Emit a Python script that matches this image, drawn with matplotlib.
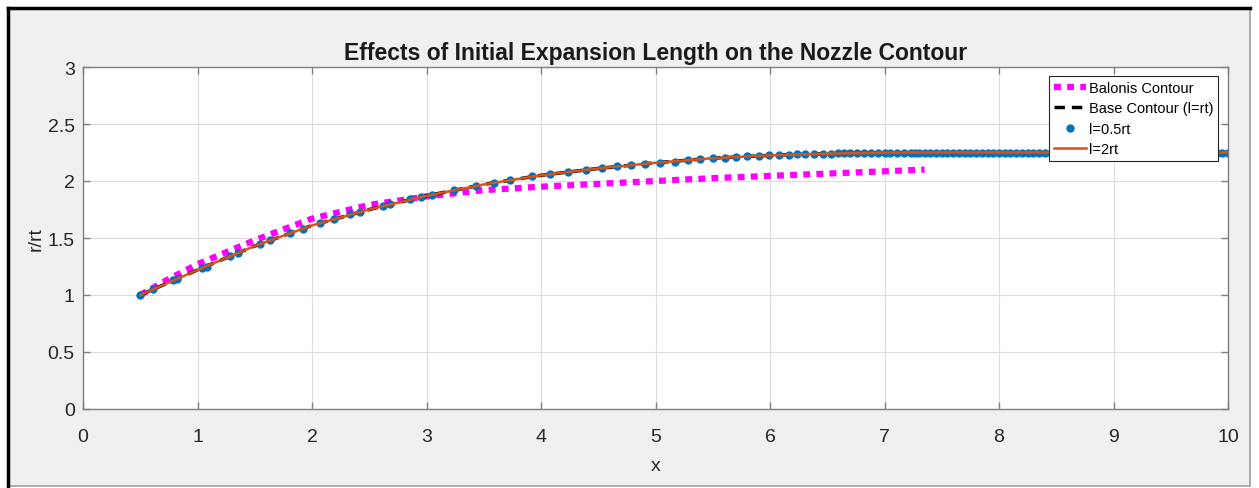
import matplotlib
matplotlib.use("Agg")
import matplotlib.pyplot as plt
from matplotlib.patches import Rectangle

plt.rcParams['font.family'] = ['Liberation Sans', 'DejaVu Sans']

# Balonis contour
x_bal = [0.5, 0.75, 1.0, 1.5, 2.0, 2.5, 3.0, 3.5, 4.0, 4.5, 5.0, 5.5, 6.0, 6.5, 7.0, 7.35]
y_bal = [1.00, 1.14, 1.27, 1.48, 1.67, 1.79, 1.865, 1.92, 1.95, 1.975, 2.00, 2.025, 2.045, 2.065, 2.085, 2.10]

# base contour (l=rt)
x_base = [0.5, 1.0, 1.5, 2.0, 2.5, 3.0, 3.5, 4.0, 4.5, 5.0, 5.5, 6.0, 6.5, 7.0, 7.3]
y_base = [1.00, 1.22, 1.43, 1.61, 1.75, 1.87, 1.97, 2.05, 2.11, 2.16, 2.20, 2.225, 2.24, 2.248, 2.25]

# l=0.5rt points
x_half = [0.50, 0.61, 0.79, 0.82, 1.04, 1.08, 1.28, 1.35, 1.55, 1.63, 1.81, 1.92, 2.07, 2.19,
          2.33, 2.42, 2.62, 2.68, 2.86, 2.95, 3.05, 3.24, 3.43, 3.59, 3.73, 3.92, 4.08, 4.24,
          4.39, 4.53, 4.66, 4.79, 4.91, 5.04, 5.17, 5.28, 5.39, 5.50, 5.61, 5.70, 5.80, 5.90,
          5.99, 6.08, 6.17, 6.24, 6.31, 6.38, 6.46, 6.53, 6.59, 6.65, 6.70, 6.76, 6.82, 6.88,
          6.94, 7.00, 7.05, 7.11, 7.17, 7.23, 7.27,
          7.30, 7.35, 7.40, 7.45, 7.50, 7.55, 7.60, 7.65, 7.70, 7.75, 7.80, 7.85, 7.90, 7.95,
          8.00, 8.05, 8.10, 8.15, 8.20, 8.25, 8.30, 8.35, 8.40, 8.45, 8.50, 8.55, 8.60, 8.65,
          8.70, 8.75, 8.80, 8.85, 8.90, 8.95, 9.00, 9.05, 9.10, 9.15, 9.20, 9.25, 9.30, 9.35,
          9.40, 9.45, 9.50, 9.55, 9.60, 9.65, 9.70, 9.75, 9.80, 9.85, 9.90, 9.95, 10.00]
y_half = [1.00, 1.05, 1.13, 1.14, 1.24, 1.25, 1.34, 1.37, 1.45, 1.48, 1.54, 1.58, 1.63, 1.67,
          1.71, 1.73, 1.78, 1.80, 1.84, 1.86, 1.88, 1.92, 1.96, 1.98, 2.01, 2.04, 2.06, 2.08,
          2.10, 2.11, 2.13, 2.14, 2.15, 2.16, 2.17, 2.18, 2.19, 2.20, 2.205, 2.21, 2.215, 2.22,
          2.225, 2.228, 2.231, 2.233, 2.235, 2.237, 2.239, 2.241, 2.242, 2.243, 2.244, 2.245, 2.246, 2.246,
          2.247, 2.248, 2.248, 2.249, 2.249, 2.25, 2.25,
          2.25, 2.25, 2.25, 2.25, 2.25, 2.25, 2.25, 2.25, 2.25, 2.25, 2.25, 2.25, 2.25, 2.25,
          2.25, 2.25, 2.25, 2.25, 2.25, 2.25, 2.25, 2.25, 2.25, 2.25, 2.25, 2.25, 2.25, 2.25,
          2.25, 2.25, 2.25, 2.25, 2.25, 2.25, 2.25, 2.25, 2.25, 2.25, 2.25, 2.25, 2.25, 2.25,
          2.25, 2.25, 2.25, 2.25, 2.25, 2.25, 2.25, 2.25, 2.25, 2.25, 2.25, 2.25, 2.25]

# l=2rt
x_two = [0.5, 1.0, 1.5, 2.0, 2.5, 3.0, 3.5, 4.0, 4.5, 5.0, 5.5, 6.0, 6.5, 7.0, 7.3, 8.0, 9.0, 10.0]
y_two = [1.00, 1.22, 1.43, 1.61, 1.75, 1.87, 1.97, 2.05, 2.11, 2.16, 2.20, 2.225, 2.24, 2.248, 2.25, 2.25, 2.25, 2.25]

W, H = 1259, 489
fig = plt.figure(figsize=(W/100, H/100), dpi=100, facecolor='white')
# grey window panel with the screenshot frame
fig.patches.append(Rectangle((8/W, 2/H), (1250-8)/W, (H-10-2)/H, transform=fig.transFigure,
                             facecolor='#f0f0f0', edgecolor='#a0a0a0', lw=1.2, zorder=-2))
fig.lines.append(plt.Line2D([8/W, 8/W], [2/H, (H-9)/H], transform=fig.transFigure, color='black', lw=2.5))
fig.lines.append(plt.Line2D([8/W, 1250/W], [(H-9)/H, (H-9)/H], transform=fig.transFigure, color='black', lw=2.5))

ax = fig.add_axes([83/W, 1-410/H, (1228-83)/W, (410-68)/H])
ax.set_facecolor('white')

ax.plot(x_bal, y_bal, color='magenta', lw=4.5, linestyle=(0, (1.1, 1.0)), solid_capstyle='butt',
        dash_capstyle='butt', label='Balonis Contour')
ax.plot(x_base, y_base, color='black', lw=2.5, linestyle=(0, (3, 2)), label='Base Contour (l=rt)')
ax.plot(x_half, y_half, linestyle='none', marker='o', markersize=6, color='#0072bd',
        markeredgewidth=0, label='l=0.5rt')
ax.plot(x_two, y_two, color='#d95319', lw=1.8, label='l=2rt')

ax.set_xlim(0, 10)
ax.set_ylim(0, 3)
ax.set_xticks(range(0, 11))
ax.set_yticks([0, 0.5, 1, 1.5, 2, 2.5, 3])
ax.set_yticklabels(['0', '0.5', '1', '1.5', '2', '2.5', '3'])
ax.grid(True, color='#dcdcdc', lw=0.8)
ax.set_axisbelow(True)
ax.tick_params(direction='in', top=True, right=True, length=5, width=1, color='#808080',
               labelsize=14, labelcolor='#262626', pad=6)
ax.tick_params(axis='x', pad=14)
for s in ax.spines.values():
    s.set_color('#808080')
    s.set_linewidth(1)

ax.set_title('Effects of Initial Expansion Length on the Nozzle Contour', fontsize=16.5,
             fontweight='bold', color='#1a1a1a', pad=6)
ax.set_xlabel('x', fontsize=14, color='#262626', labelpad=8)
ax.set_ylabel('r/rt', fontsize=14, color='#262626', labelpad=2)

leg = ax.legend(loc='upper right', bbox_to_anchor=(0.9915, 0.975), fontsize=10.5, frameon=True,
                fancybox=False, edgecolor='#262626', framealpha=1, handlelength=2.2,
                handletextpad=0.15, labelspacing=0.45, borderpad=0.35, borderaxespad=0)
leg.get_frame().set_linewidth(0.8)

fig.savefig('out.png', dpi=100, facecolor=fig.get_facecolor())
